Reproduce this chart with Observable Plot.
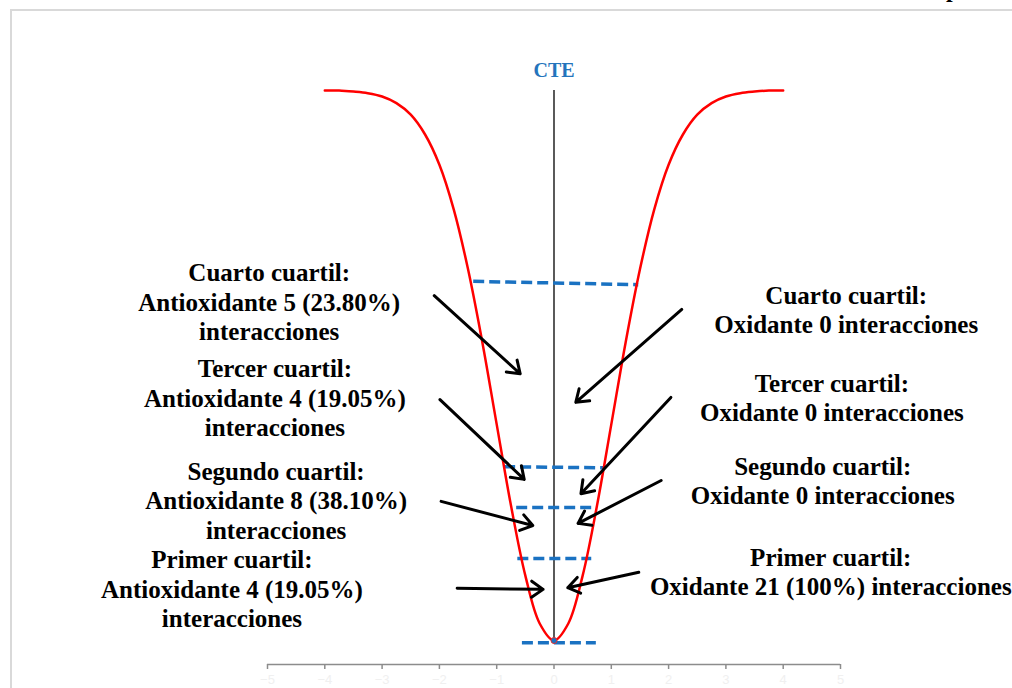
<!DOCTYPE html>
<html>
<head>
<meta charset="utf-8">
<script src="https://cdn.jsdelivr.net/npm/d3@7"></script>
<script src="https://cdn.jsdelivr.net/npm/@observablehq/plot@0.6"></script>
<style>
  html, body { margin: 0; padding: 0; background: #fff; overflow: hidden; }
  #wrap { position: relative; width: 1012px; height: 688px; overflow: hidden; background: #fff; }
  #frame { position: absolute; left: 10px; top: 9px; width: 1020px; height: 720px; border: 2px solid #d9d9d9; box-sizing: border-box; }
  #frag { position: absolute; left: 946px; top: -23px; font: bold 24px "Liberation Serif", serif; line-height: 24px; color: #000; }
  #chart { position: absolute; left: 0; top: 0; }
</style>
</head>
<body>
<div id="wrap">
  <div id="frame"></div>
  <div id="frag">p</div>
  <div id="chart"></div>
</div>
<script>
// Curve
const curveX = [-4, -3.75, -3.5, -3.25, -3, -2.75, -2.5, -2.25, -2, -1.75, -1.5, -1.25, -1, -0.75, -0.5, -0.25, 0,
                0.25, 0.5, 0.75, 1, 1.25, 1.5, 1.75, 2, 2.25, 2.5, 2.75, 3, 3.25, 3.5, 3.75, 4];
const curveY = [1.0, 1.0, 0.998, 0.995, 0.989, 0.977, 0.956, 0.92, 0.865, 0.784, 0.675, 0.542, 0.393, 0.245, 0.118, 0.031, 0,
                0.031, 0.118, 0.245, 0.393, 0.542, 0.675, 0.784, 0.865, 0.92, 0.956, 0.977, 0.989, 0.995, 0.998, 1.0, 1.0];

// Dashed quartile cut lines
const cutLeftX  = [-1.41, -0.87, -0.66, -0.64, -0.56];
const cutRightX = [1.47, 0.86, 0.65, 0.65, 0.73];
const cutLeftY  = [0.653, 0.316, 0.242, 0.149, -0.004];
const cutRightY = [0.647, 0.314, 0.242, 0.149, -0.004];

// Labels
const quartiles = ["Cuarto cuartil:", "Tercer cuartil:", "Segundo cuartil:", "Primer cuartil:"];
const antioxCounts = [5, 4, 8, 4];
const antioxPct = ["23.80%", "19.05%", "38.10%", "19.05%"];
const oxidCounts = [0, 0, 0, 21];
const oxidPct = [null, null, null, "100%"];
const centerLabel = "CTE";
const xTicks = [-5, -4, -3, -2, -1, 0, 1, 2, 3, 4, 5];

// Label anchors (data units)
const leftLabelX = [-4.97, -4.87, -4.85, -5.62];
const leftLabelY = [0.617, 0.442, 0.256, 0.095];
const rightLabelX = [5.10, 4.85, 4.69, 4.83];
const rightLabelY = [0.603, 0.443, 0.292, 0.126];

// Arrows (data units)
const leftArrowX1 = [-2.09, -1.99, -1.97, -1.69];
const leftArrowY1 = [0.627, 0.438, 0.253, 0.095];
const leftArrowX2 = [-0.59, -0.52, -0.37, -0.19];
const leftArrowY2 = [0.485, 0.293, 0.209, 0.093];
const rightArrowX1 = [2.23, 2.04, 1.87, 1.48];
const rightArrowY1 = [0.602, 0.442, 0.291, 0.124];
const rightArrowX2 = [0.38, 0.47, 0.42, 0.24];
const rightArrowY2 = [0.433, 0.267, 0.213, 0.096];

const curve = curveX.map((x, i) => ({x, y: curveY[i]}));
const cuts = cutLeftX.map((x1, i) => ({x1, x2: cutRightX[i], y1: cutLeftY[i], y2: cutRightY[i]}));
const leftLabels = quartiles.map((q, i) => ({
  x: leftLabelX[i], y: leftLabelY[i],
  text: `${q}\nAntioxidante ${antioxCounts[i]} (${antioxPct[i]})\ninteracciones`
}));
const rightLabels = quartiles.map((q, i) => ({
  x: rightLabelX[i], y: rightLabelY[i],
  text: `${q}\nOxidante ${oxidCounts[i]}${oxidPct[i] ? ` (${oxidPct[i]})` : ""} interacciones`
}));
const arrows = [
  ...leftArrowX1.map((x1, i) => ({x1, y1: leftArrowY1[i], x2: leftArrowX2[i], y2: leftArrowY2[i]})),
  ...rightArrowX1.map((x1, i) => ({x1, y1: rightArrowY1[i], x2: rightArrowX2[i], y2: rightArrowY2[i]}))
];

const yMin = -0.0436;
const serif = "'Liberation Serif', 'Times New Roman', serif";

const chart = Plot.plot({
  width: 1012,
  height: 688,
  marginLeft: 267,
  marginRight: 172,
  marginTop: 90,
  marginBottom: 24,
  style: {background: "transparent", overflow: "visible", fontFamily: "'Liberation Sans', Arial, sans-serif"},
  x: {domain: [-5, 5]},
  y: {domain: [yMin, 1], axis: null},
  marks: [
    Plot.ruleY([yMin], {stroke: "#8c8c8c", strokeWidth: 1.5}),
    Plot.axisX({ticks: xTicks, tickSize: 5, tickPadding: 5, stroke: "#8c8c8c", strokeWidth: 1.5, color: "#f0f0f0", fontSize: 13, label: null}),
    Plot.ruleX([0], {y1: 0, y2: 1, stroke: "#000", strokeWidth: 1.3}),
    Plot.link(cuts, {x1: "x1", x2: "x2", y1: "y1", y2: "y2", stroke: "#1A72C2", strokeWidth: 3.5, strokeDasharray: "11,5"}),
    Plot.line(curve, {x: "x", y: "y", stroke: "#ff0000", strokeWidth: 2.5, curve: "catmull-rom"}),
    Plot.dot([{x: 0, y: 0}], {x: "x", y: "y", r: 3, fill: "#1A72C2", stroke: "#e03030", strokeWidth: 1}),
    Plot.arrow(arrows, {x1: "x1", y1: "y1", x2: "x2", y2: "y2", stroke: "#000", strokeWidth: 3, headLength: 7, headAngle: 70}),
    Plot.text([{x: 0, y: 1.036}], {x: "x", y: "y", text: () => centerLabel, fill: "#2474BC", fontSize: 20, fontWeight: "bold", fontFamily: serif}),
    Plot.text(leftLabels, {x: "x", y: "y", text: "text", fill: "#000", fontSize: 25, fontWeight: "bold", fontFamily: serif, lineHeight: 1.18, lineAnchor: "middle", textAnchor: "middle"}),
    Plot.text(rightLabels, {x: "x", y: "y", text: "text", fill: "#000", fontSize: 25, fontWeight: "bold", fontFamily: serif, lineHeight: 1.18, lineAnchor: "middle", textAnchor: "middle"})
  ]
});
document.getElementById("chart").appendChild(chart);
</script>
</body>
</html>
